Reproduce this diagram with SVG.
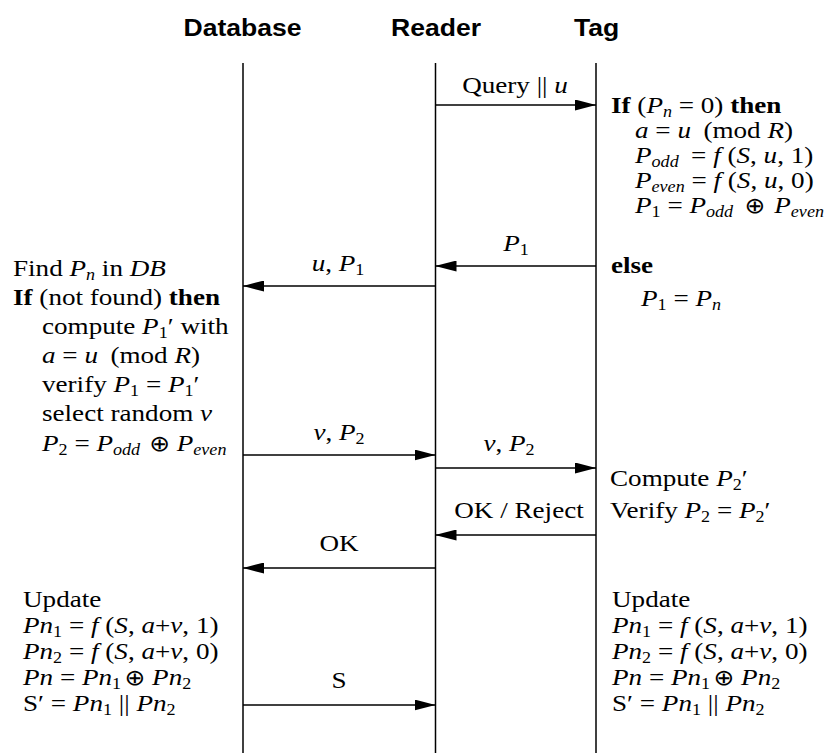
<svg xmlns="http://www.w3.org/2000/svg" width="837" height="753" viewBox="0 0 837 753">
<style>
.h{font-family:"Liberation Sans",Arial,sans-serif;font-weight:bold;font-size:23.5px;fill:#000}
.t{font-family:"Liberation Serif","Times New Roman",serif;font-size:24px;fill:#000}
.i{font-style:italic}
.b{font-weight:bold}
.s{font-size:16px}
.o{font-family:"DejaVu Sans",sans-serif;font-size:22px}
.life{stroke:#000;stroke-width:1.5;fill:none}
.msg{stroke:#000;stroke-width:1.5;fill:none;marker-end:url(#ah)}
</style>
<defs>
<marker id="ah" markerUnits="userSpaceOnUse" markerWidth="21" markerHeight="11" refX="21" refY="5.5" orient="auto"><path d="M0,0 L21,5.5 L0,11 Z" fill="#000"/></marker>
</defs>
<rect width="837" height="753" fill="#fff"/>

<g id="database">
<text class="h" text-anchor="middle" transform="translate(242.5 0) scale(1.13 1)" x="0" y="36">Database</text>
<line class="life" x1="243" y1="63" x2="243" y2="753"/>
</g>
<g id="reader">
<text class="h" text-anchor="middle" transform="translate(436 0) scale(1.13 1)" x="0" y="36">Reader</text>
<line class="life" x1="435.5" y1="63" x2="435.5" y2="753"/>
</g>
<g id="tag">
<text class="h" text-anchor="middle" transform="translate(596.5 0) scale(1.13 1)" x="0" y="36">Tag</text>
<line class="life" x1="596" y1="63" x2="596" y2="753"/>
</g>

<g id="tag-init">
<text class="t" transform="translate(611 0) scale(1.13 1)" x="0" y="113"><tspan class="b">If</tspan> (<tspan class="i">P</tspan><tspan class="s i" dy="4">n</tspan><tspan dy="-4"> = 0) </tspan><tspan class="b">then</tspan></text>
<text class="t" transform="translate(635 0) scale(1.13 1)" x="0" y="138"><tspan class="i">a</tspan> = <tspan class="i">u</tspan> <tspan dx="5">(mod </tspan><tspan class="i">R</tspan>)</text>
<text class="t" transform="translate(635 0) scale(1.13 1)" x="0" y="163"><tspan class="i">P</tspan><tspan class="s i" dy="4">odd</tspan><tspan dy="-4" dx="5"> = </tspan><tspan class="i">f</tspan> (<tspan class="i">S</tspan>, <tspan class="i">u</tspan>, 1)</text>
<text class="t" transform="translate(635 0) scale(1.13 1)" x="0" y="188"><tspan class="i">P</tspan><tspan class="s i" dy="4">even</tspan><tspan dy="-4"> = </tspan><tspan class="i">f</tspan> (<tspan class="i">S</tspan>, <tspan class="i">u</tspan>, 0)</text>
<text class="t" transform="translate(635 0) scale(1.13 1)" x="0" y="213"><tspan class="i">P</tspan><tspan class="s" dy="4">1</tspan><tspan dy="-4"> = </tspan><tspan class="i">P</tspan><tspan class="s i" dy="4">odd</tspan><tspan class="o" dy="-4" dx="10">⊕</tspan><tspan dx="2"> </tspan><tspan class="i">P</tspan><tspan class="s i" dy="4">even</tspan></text>
<text class="t b" transform="translate(611 0) scale(1.13 1)" x="0" y="273">else</text>
<text class="t" transform="translate(641 0) scale(1.13 1)" x="0" y="306"><tspan class="i">P</tspan><tspan class="s" dy="4">1</tspan><tspan dy="-4"> = </tspan><tspan class="i">P</tspan><tspan class="s i" dy="4">n</tspan></text>
</g>

<g id="db-lookup">
<text class="t" transform="translate(13 0) scale(1.13 1)" x="0" y="276">Find <tspan class="i">P</tspan><tspan class="s i" dy="4">n</tspan><tspan dy="-4"> in </tspan><tspan class="i">DB</tspan></text>
<text class="t" transform="translate(13 0) scale(1.13 1)" x="0" y="305"><tspan class="b">If</tspan> (not found) <tspan class="b">then</tspan></text>
<text class="t" transform="translate(42 0) scale(1.13 1)" x="0" y="334">compute <tspan class="i">P</tspan><tspan class="s" dy="4">1</tspan><tspan dy="-4">′ with</tspan></text>
<text class="t" transform="translate(42 0) scale(1.13 1)" x="0" y="363"><tspan class="i">a</tspan> = <tspan class="i">u</tspan> <tspan dx="5">(mod </tspan><tspan class="i">R</tspan>)</text>
<text class="t" transform="translate(42 0) scale(1.13 1)" x="0" y="392">verify <tspan class="i">P</tspan><tspan class="s" dy="4">1</tspan><tspan dy="-4"> = </tspan><tspan class="i">P</tspan><tspan class="s" dy="4">1</tspan><tspan dy="-4">′</tspan></text>
<text class="t" transform="translate(42 0) scale(1.13 1)" x="0" y="421">select random <tspan class="i">v</tspan></text>
<text class="t" transform="translate(42 0) scale(1.13 1)" x="0" y="451"><tspan class="i">P</tspan><tspan class="s" dy="4">2</tspan><tspan dy="-4"> = </tspan><tspan class="i">P</tspan><tspan class="s i" dy="4">odd</tspan><tspan class="o" dy="-4" dx="8">⊕</tspan> <tspan class="i">P</tspan><tspan class="s i" dy="4">even</tspan></text>
</g>

<g id="tag-verify">
<text class="t" transform="translate(610 0) scale(1.13 1)" x="0" y="486">Compute <tspan class="i">P</tspan><tspan class="s" dy="4">2</tspan><tspan dy="-4">′</tspan></text>
<text class="t" transform="translate(610 0) scale(1.13 1)" x="0" y="518">Verify <tspan class="i">P</tspan><tspan class="s" dy="4">2</tspan><tspan dy="-4"> = </tspan><tspan class="i">P</tspan><tspan class="s" dy="4">2</tspan><tspan dy="-4">′</tspan></text>
</g>

<g id="db-update">
<text class="t" transform="translate(23 0) scale(1.13 1)" x="0" y="607">Update</text>
<text class="t" transform="translate(23 0) scale(1.13 1)" x="0" y="633"><tspan class="i">Pn</tspan><tspan class="s" dy="4">1</tspan><tspan dy="-4"> = </tspan><tspan class="i">f</tspan> (<tspan class="i">S</tspan>, <tspan class="i">a</tspan>+<tspan class="i">v</tspan>, 1)</text>
<text class="t" transform="translate(23 0) scale(1.13 1)" x="0" y="659"><tspan class="i">Pn</tspan><tspan class="s" dy="4">2</tspan><tspan dy="-4"> = </tspan><tspan class="i">f</tspan> (<tspan class="i">S</tspan>, <tspan class="i">a</tspan>+<tspan class="i">v</tspan>, 0)</text>
<text class="t" transform="translate(23 0) scale(1.13 1)" x="0" y="685"><tspan class="i">Pn</tspan> = <tspan class="i">Pn</tspan><tspan class="s" dy="4">1</tspan><tspan class="o" dy="-4" dx="3">⊕</tspan> <tspan class="i">Pn</tspan><tspan class="s" dy="4">2</tspan></text>
<text class="t" transform="translate(23 0) scale(1.13 1)" x="0" y="711">S′ = <tspan class="i">Pn</tspan><tspan class="s" dy="4">1</tspan><tspan dy="-4"> || </tspan><tspan class="i">Pn</tspan><tspan class="s" dy="4">2</tspan></text>
</g>

<g id="tag-update">
<text class="t" transform="translate(612 0) scale(1.13 1)" x="0" y="607">Update</text>
<text class="t" transform="translate(612 0) scale(1.13 1)" x="0" y="633"><tspan class="i">Pn</tspan><tspan class="s" dy="4">1</tspan><tspan dy="-4"> = </tspan><tspan class="i">f</tspan> (<tspan class="i">S</tspan>, <tspan class="i">a</tspan>+<tspan class="i">v</tspan>, 1)</text>
<text class="t" transform="translate(612 0) scale(1.13 1)" x="0" y="659"><tspan class="i">Pn</tspan><tspan class="s" dy="4">2</tspan><tspan dy="-4"> = </tspan><tspan class="i">f</tspan> (<tspan class="i">S</tspan>, <tspan class="i">a</tspan>+<tspan class="i">v</tspan>, 0)</text>
<text class="t" transform="translate(612 0) scale(1.13 1)" x="0" y="685"><tspan class="i">Pn</tspan> = <tspan class="i">Pn</tspan><tspan class="s" dy="4">1</tspan><tspan class="o" dy="-4" dx="3">⊕</tspan> <tspan class="i">Pn</tspan><tspan class="s" dy="4">2</tspan></text>
<text class="t" transform="translate(612 0) scale(1.13 1)" x="0" y="711">S′ = <tspan class="i">Pn</tspan><tspan class="s" dy="4">1</tspan><tspan dy="-4"> || </tspan><tspan class="i">Pn</tspan><tspan class="s" dy="4">2</tspan></text>
</g>

<g id="connectors">
<line class="msg" x1="435.5" y1="105" x2="596" y2="105"/>
<text class="t" text-anchor="middle" transform="translate(515 0) scale(1.13 1)" x="0" y="93">Query || <tspan class="i">u</tspan></text>

<line class="msg" x1="596" y1="266" x2="435.5" y2="266"/>
<text class="t" text-anchor="middle" transform="translate(516 0) scale(1.13 1)" x="0" y="251"><tspan class="i">P</tspan><tspan class="s" dy="4">1</tspan></text>

<line class="msg" x1="435.5" y1="286" x2="243" y2="286"/>
<text class="t" text-anchor="middle" transform="translate(338 0) scale(1.13 1)" x="0" y="271"><tspan class="i">u</tspan>, <tspan class="i">P</tspan><tspan class="s" dy="4">1</tspan></text>

<line class="msg" x1="243" y1="455" x2="435.5" y2="455"/>
<text class="t" text-anchor="middle" transform="translate(339 0) scale(1.13 1)" x="0" y="440"><tspan class="i">v</tspan>, <tspan class="i">P</tspan><tspan class="s" dy="4">2</tspan></text>

<line class="msg" x1="435.5" y1="468" x2="596" y2="468"/>
<text class="t" text-anchor="middle" transform="translate(509 0) scale(1.13 1)" x="0" y="451"><tspan class="i">v</tspan>, <tspan class="i">P</tspan><tspan class="s" dy="4">2</tspan></text>

<line class="msg" x1="596" y1="535" x2="435.5" y2="535"/>
<text class="t" text-anchor="middle" transform="translate(519 0) scale(1.13 1)" x="0" y="518">OK / Reject</text>

<line class="msg" x1="435.5" y1="568" x2="243" y2="568"/>
<text class="t" text-anchor="middle" transform="translate(339 0) scale(1.13 1)" x="0" y="551">OK</text>

<line class="msg" x1="243" y1="705" x2="435.5" y2="705"/>
<text class="t" text-anchor="middle" transform="translate(339 0) scale(1.13 1)" x="0" y="688">S</text>
</g>
</svg>
